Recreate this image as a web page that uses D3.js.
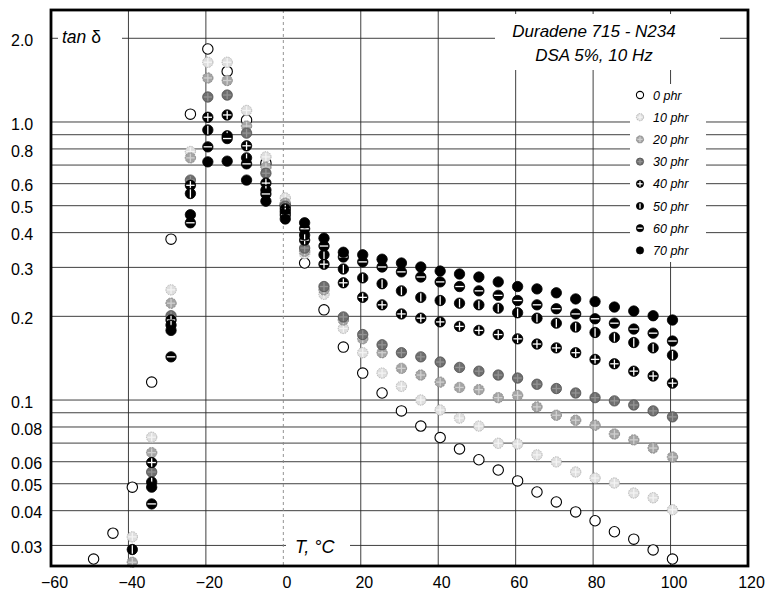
<!DOCTYPE html>
<html>
<head>
<meta charset="utf-8">
<script src="https://cdn.jsdelivr.net/npm/d3@7"></script>
<style>
  body { margin: 0; background: #fff; }
  text { font-family: "Liberation Sans", Arial, Helvetica, sans-serif; fill: #000; }
</style>
</head>
<body>
<svg id="chart" width="772" height="592"></svg>
<script>
// Temperatures of the measurements (°C)
var temps = [-49, -44, -39, -34, -29, -24, -19.5, -14.5, -9.5, -4.5, 0.5, 5.5, 10.5, 15.5, 20.5, 25.5,
  30.5, 35.5, 40.5, 45.5, 50.5, 55.5, 60.5, 65.5, 70.5, 75.5, 80.5, 85.5, 90.5, 95.5, 100.5];

// tan delta for each carbon black loading (null = off the chart)
var phr0 = [0.0268, 0.0332, 0.0486, 0.116, 0.379, 1.067, 1.83, 1.52, 1.016, 0.711, 0.502, 0.311, 0.211, 0.155, 0.125, 0.106,
  0.0914, 0.0806, 0.0733, 0.0667, 0.0610, 0.0560, 0.0512, 0.0467, 0.0430, 0.0396, 0.0368, 0.0336, 0.0316, 0.0289, 0.0268];
var phr10 = [null, null, 0.0322, 0.0735, 0.249, 0.783, 1.64, 1.64, 1.10, 0.749, 0.533, 0.336, 0.240, 0.181, 0.148, 0.125,
  0.112, 0.100, 0.0921, 0.0861, 0.0806, 0.0699, 0.0695, 0.0635, 0.0599, 0.0551, 0.0524, 0.0503, 0.0463, 0.0445, 0.0403];
var phr20 = [null, null, 0.0261, 0.0647, 0.223, 0.743, 1.44, 1.41, 0.967, 0.688, 0.511, 0.343, 0.249, 0.194, 0.166, 0.148,
  0.130, 0.123, 0.116, 0.111, 0.109, 0.102, 0.104, 0.0945, 0.0882, 0.0846, 0.0812, 0.0755, 0.0719, 0.0672, 0.0624];
var phr30 = [null, null, null, 0.0551, 0.201, 0.618, 1.23, 1.25, 0.912, 0.654, 0.498, 0.352, 0.256, 0.199, 0.172, 0.158,
  0.148, 0.143, 0.137, 0.131, 0.127, 0.123, 0.120, 0.114, 0.110, 0.106, 0.102, 0.0993, 0.0960, 0.0914, 0.0870];
var phr40 = [null, null, null, 0.0596, 0.194, 0.592, 1.04, 1.06, 0.821, 0.603, 0.487, 0.376, 0.308, 0.264, 0.234, 0.220,
  0.204, 0.197, 0.191, 0.184, 0.178, 0.172, 0.166, 0.159, 0.154, 0.148, 0.140, 0.135, 0.127, 0.122, 0.115];
var phr50 = [null, null, 0.0290, 0.0507, 0.186, 0.553, 0.936, 0.892, 0.743, 0.569, 0.475, 0.392, 0.333, 0.296, 0.275, 0.262,
  0.247, 0.234, 0.228, 0.223, 0.220, 0.214, 0.206, 0.197, 0.189, 0.183, 0.175, 0.168, 0.161, 0.154, 0.145];
var phr60 = [null, null, null, 0.0423, 0.143, 0.434, 0.814, 0.872, 0.707, 0.551, 0.463, 0.413, 0.358, 0.327, 0.314, 0.301,
  0.289, 0.277, 0.266, 0.256, 0.247, 0.238, 0.228, 0.220, 0.213, 0.204, 0.196, 0.189, 0.180, 0.174, 0.163];
var phr70 = [null, null, null, 0.0486, 0.178, 0.464, 0.719, 0.723, 0.618, 0.519, 0.448, 0.434, 0.382, 0.340, 0.333, 0.321,
  0.311, 0.301, 0.291, 0.284, 0.277, 0.266, 0.256, 0.251, 0.243, 0.231, 0.226, 0.216, 0.209, 0.201, 0.194];

var seriesNames = ["0 phr", "10 phr", "20 phr", "30 phr", "40 phr", "50 phr", "60 phr", "70 phr"];
var seriesValues = [phr0, phr10, phr20, phr30, phr40, phr50, phr60, phr70];

// Axis labels and grid
var xTickLabels = [-60, -40, -20, 0, 20, 40, 60, 80, 100, 120];
var xGridValues = [-40, -20, 0, 20, 40, 60, 80, 100];
var yTickLabels = [2, 1, 0.8, 0.6, 0.5, 0.4, 0.3, 0.2, 0.1, 0.08, 0.06, 0.05, 0.04, 0.03];
var yGridValues = [2, 1, 0.9, 0.8, 0.7, 0.6, 0.5, 0.4, 0.3, 0.2, 0.1, 0.09, 0.08, 0.07, 0.06, 0.05, 0.04, 0.03];

var svg = d3.select("#chart");

var x = d3.scaleLinear().domain([-60, 120]).range([51, 748]);
var y = d3.scaleLog().domain([0.0253, 2.528]).range([566, 10]);

// marker looks, one per series
var styles = [
  {fill: "#fff", stroke: "#000", sw: 1.1, lines: []},
  {fill: "#dedede", stroke: "#a8a8a8", sw: 0.8, dash: "1.5 1", lines: ["h", "v"], lc: "#f4f4f4"},
  {fill: "#a4a4a4", stroke: "#808080", sw: 0.8, dash: "2 1", lines: ["h", "v"], lc: "#d0d0d0"},
  {fill: "#6e6e6e", stroke: "#505050", sw: 0.8, lines: ["h", "v"], lc: "#949494"},
  {fill: "#000", stroke: "#000", sw: 0.8, lines: ["h", "v"], lc: "#fff"},
  {fill: "#000", stroke: "#000", sw: 0.8, lines: ["v"], lc: "#fff"},
  {fill: "#000", stroke: "#000", sw: 0.8, lines: ["h"], lc: "#fff"},
  {fill: "#000", stroke: "#000", sw: 0.8, lines: []}
];

function drawMarker(g, cx, cy, r, st) {
  g.append("circle")
    .attr("cx", cx).attr("cy", cy).attr("r", r)
    .attr("fill", st.fill).attr("stroke", st.stroke)
    .attr("stroke-width", st.sw)
    .attr("stroke-dasharray", st.dash || null);
  st.lines.forEach(function(l) {
    var k = r - 1;
    g.append("line")
      .attr("x1", l == "h" ? cx - k : cx).attr("x2", l == "h" ? cx + k : cx)
      .attr("y1", l == "h" ? cy : cy - k).attr("y2", l == "h" ? cy : cy + k)
      .attr("stroke", st.lc).attr("stroke-width", 1.3);
  });
}

// grid
var grid = svg.append("g");
grid.selectAll(".hgrid")
  .data(yGridValues)
  .enter().append("line")
  .attr("x1", x.range()[0]).attr("x2", x.range()[1])
  .attr("y1", function(d) { return y(d); }).attr("y2", function(d) { return y(d); })
  .attr("stroke", "#2a2a2a").attr("stroke-width", 0.9);
grid.selectAll(".vgrid")
  .data(xGridValues)
  .enter().append("line")
  .attr("x1", function(d) { return x(d); }).attr("x2", function(d) { return x(d); })
  .attr("y1", y.range()[1]).attr("y2", y.range()[0])
  .attr("stroke", function(d) { return d == 0 ? "#888" : "#2a2a2a"; })
  .attr("stroke-dasharray", function(d) { return d == 0 ? "3 3" : null; })
  .attr("stroke-width", 0.9);

// white patches behind the labels inside the frame
var patches = [[58, 24, 64, 26], [495, 14, 225, 56], [630, 84, 76, 178], [286, 534, 64, 26]];
svg.append("g").selectAll("rect")
  .data(patches)
  .enter().append("rect")
  .attr("x", function(d) { return d[0]; }).attr("y", function(d) { return d[1]; })
  .attr("width", function(d) { return d[2]; }).attr("height", function(d) { return d[3]; })
  .attr("fill", "#fff");

// data points
var pts = svg.append("g");
seriesValues.forEach(function(vals, i) {
  var g = pts.append("g").attr("class", "series s" + i);
  vals.forEach(function(v, j) {
    if (v == null) return;
    drawMarker(g, x(temps[j]), y(v), 5.2, styles[i]);
  });
});

// frame
svg.append("rect")
  .attr("x", x.range()[0]).attr("y", y.range()[1])
  .attr("width", x.range()[1] - x.range()[0])
  .attr("height", y.range()[0] - y.range()[1])
  .attr("fill", "none").attr("stroke", "#000").attr("stroke-width", 2.8);

// axes labels
var xAxis = svg.append("g")
  .attr("transform", "translate(3," + y.range()[0] + ")")
  .call(d3.axisBottom(x).tickValues(xTickLabels).tickSize(0).tickPadding(11));
xAxis.select(".domain").remove();
xAxis.selectAll("text").style("font-size", "16px").style("font-family", "Liberation Sans, Arial, sans-serif");

var yAxis = svg.append("g")
  .attr("transform", "translate(" + x.range()[0] + ",2)")
  .call(d3.axisLeft(y).tickValues(yTickLabels).tickSize(0)
    .tickFormat(function(d) { return d >= 1 ? d.toFixed(1) : String(d); }));
yAxis.select(".domain").remove();
yAxis.selectAll("text")
  .attr("x", -40).attr("text-anchor", "start")
  .style("font-size", "16px").style("font-family", "Liberation Sans, Arial, sans-serif");

// axis titles
var yt = svg.append("text").attr("x", 62).attr("y", 43).style("font-size", "17.5px");
yt.append("tspan").style("font-style", "italic").text("tan");
yt.append("tspan").text(" δ");

svg.append("text").attr("x", 295).attr("y", 553)
  .style("font-size", "18px").style("font-style", "italic")
  .text("T, °C");

// title
svg.append("text").attr("x", 594).attr("y", 37).attr("text-anchor", "middle")
  .style("font-size", "17px").style("font-style", "italic")
  .text("Duradene 715 - N234");
svg.append("text").attr("x", 594).attr("y", 61).attr("text-anchor", "middle")
  .style("font-size", "17px").style("font-style", "italic")
  .text("DSA 5%, 10 Hz");

// legend
var legend = svg.append("g");
seriesNames.forEach(function(name, i) {
  var ly = 95 + i * 22.2;
  drawMarker(legend, 640, ly, 3.6, styles[i]);
  legend.append("text").attr("x", 653).attr("y", ly + 4.5)
    .style("font-size", "12.5px").style("font-style", "italic")
    .text(name);
});
</script>
</body>
</html>
